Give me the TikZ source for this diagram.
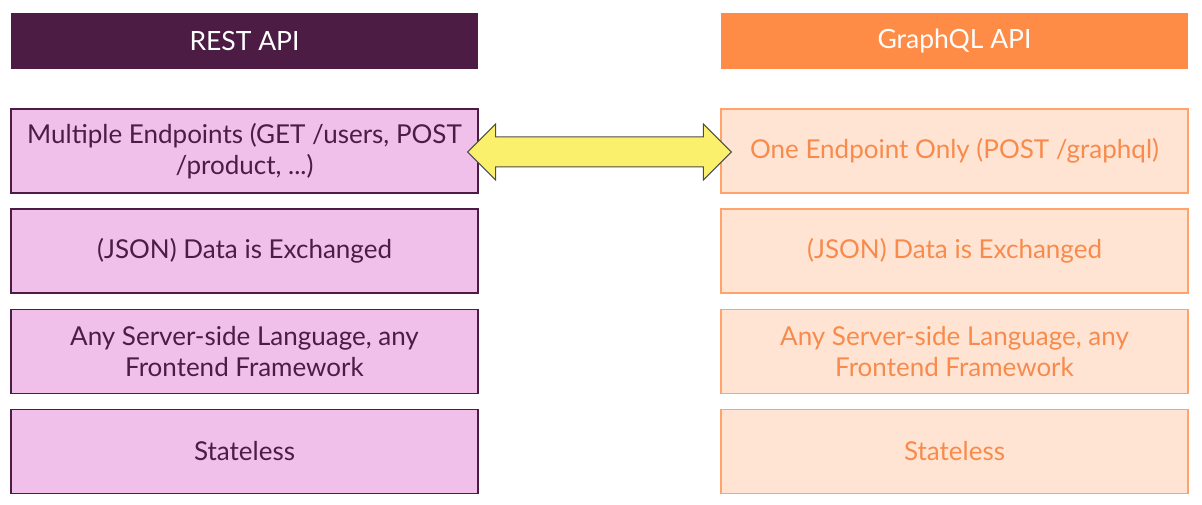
\documentclass[tikz,border=0pt]{standalone}
\usepackage{fontspec}
\setmainfont{Lato}
\usetikzlibrary{calc}

\definecolor{restdark}{HTML}{4D1C45}
\definecolor{restfill}{HTML}{F0C0EA}
\definecolor{gqlorange}{HTML}{FF8C46}
\definecolor{gqlfill}{HTML}{FFE4D3}
\definecolor{gqltext}{HTML}{F88B4C}
\definecolor{swapfill}{HTML}{FBF06C}

\begin{document}
\begin{tikzpicture}[x=1pt,y=-1pt,
  head/.style={shape=rectangle, minimum width=467pt, minimum height=56pt, inner sep=0pt, font=\fontsize{26.5}{30}\selectfont},
  resthead/.style={head, fill=restdark, text=white},
  gqlhead/.style={head, fill=gqlorange, text=white},
  item/.style={shape=rectangle, minimum width=467pt, minimum height=84pt, inner sep=0pt, align=center, line width=1.4pt, font=\fontsize{26}{31}\selectfont},
  restitem/.style={item, fill=restfill, draw=restdark, text=restdark},
  gqlitem/.style={item, fill=gqlfill, draw=gqlorange!80, text=gqltext}]
\useasboundingbox (0,0) rectangle (1202,505);

\path (244.5,41) node (restH) [resthead] {REST API};
\path (954.5,41) node (gqlH) [gqlhead] {GraphQL API};

\path (244.5,151) node (rest1) [restitem] {Multiple Endpoints (GET /users, POST\\/product, ...)};
\path (244.5,251) node (rest2) [restitem] {(JSON) Data is Exchanged};
\path (244.5,351.5) node (rest3) [restitem] {Any Server-side Language, any\\Frontend Framework};
\path (244.5,451.5) node (rest4) [restitem] {Stateless};

\path (954.5,151) node (gql1) [gqlitem] {One Endpoint Only (POST /graphql)};
\path (954.5,251) node (gql2) [gqlitem] {(JSON) Data is Exchanged};
\path (954.5,351.5) node (gql3) [gqlitem] {Any Server-side Language, any\\Frontend Framework};
\path (954.5,451.5) node (gql4) [gqlitem] {Stateless};

% double arrow between the endpoint boxes
\coordinate (tipL) at ($(rest1.east)+(-11,1)$);
\coordinate (tipR) at ($(gql1.west)+(11,1)$);
\filldraw[fill=swapfill, draw=black!70, line width=1pt, line join=miter]
  (tipL) -- ($(tipL)+(28,-28)$) -- ($(tipL)+(28,-15)$) -- ($(tipR)+(-28,-15)$)
  -- ($(tipR)+(-28,-28)$) -- (tipR) -- ($(tipR)+(-28,28)$) -- ($(tipR)+(-28,15)$)
  -- ($(tipL)+(28,15)$) -- ($(tipL)+(28,28)$) -- cycle;

\end{tikzpicture}
\end{document}
